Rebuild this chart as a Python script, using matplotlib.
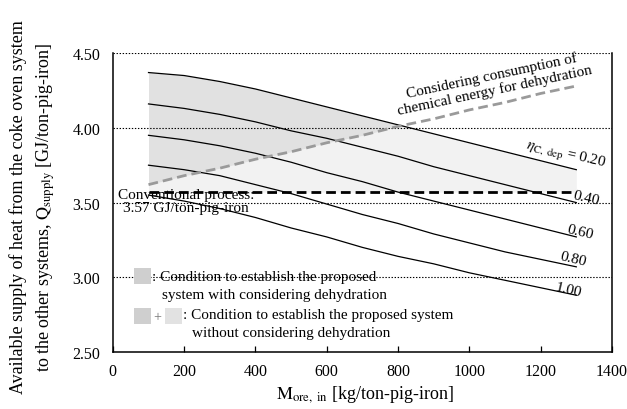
import matplotlib
matplotlib.use("Agg")
import matplotlib.pyplot as plt
from matplotlib.patches import Rectangle
import numpy as np

plt.rcParams['font.family'] = ['Liberation Serif', 'DejaVu Serif']
plt.rcParams['mathtext.fontset'] = 'stix'
plt.rcParams['lines.scale_dashes'] = False

# ore input [kg/ton-pig-iron]
m_ore = [100, 200, 300, 400, 500, 600, 700, 800, 900, 1000, 1100, 1200, 1300]

# available heat supply for each carbon deposition ratio [GJ/ton-pig-iron]
q_020 = [4.37, 4.35, 4.31, 4.26, 4.20, 4.14, 4.08, 4.02, 3.96, 3.90, 3.84, 3.78, 3.72]
q_040 = [4.16, 4.13, 4.09, 4.04, 3.98, 3.93, 3.87, 3.81, 3.74, 3.68, 3.62, 3.56, 3.50]
q_060 = [3.95, 3.92, 3.88, 3.83, 3.77, 3.70, 3.64, 3.57, 3.51, 3.45, 3.39, 3.33, 3.27]
q_080 = [3.75, 3.72, 3.68, 3.62, 3.56, 3.49, 3.42, 3.36, 3.29, 3.23, 3.17, 3.12, 3.07]
q_100 = [3.55, 3.51, 3.46, 3.40, 3.33, 3.27, 3.20, 3.14, 3.09, 3.03, 2.98, 2.93, 2.88]

# required heat when the chemical energy for dehydration is counted
q_dehyd = [3.62, 3.68, 3.73, 3.79, 3.84, 3.90, 3.95, 4.01, 4.06, 4.12, 4.17, 4.23, 4.28]

# conventional process
q_conv = 3.57

curves = [q_020, q_040, q_060, q_080, q_100]
curve_labels = ['0.40', '0.60', '0.80', '1.00']
label_pos = [(1327, 3.530), (1310, 3.309), (1291, 3.122), (1277, 2.921)]

fig = plt.figure(figsize=(6.27, 4.10), dpi=100)
ax = fig.add_axes([0.180, 0.139, 0.796, 0.729])

x = np.array(m_ore)
top = np.array(q_020)
dehyd = np.array(q_dehyd)

# shaded feasibility regions
ax.fill_between(x, q_conv, top, color='#f2f2f2', lw=0, zorder=0)
ax.fill_between(x, dehyd, top, where=top > dehyd, interpolate=True,
                color='#e1e1e1', lw=0, zorder=0.5)

for yv in [3.0, 3.5, 4.0, 4.5]:
    ax.axhline(yv, color='black', ls=(0, (1, 1.2)), lw=0.8, zorder=1)

for c in curves:
    ax.plot(x, c, color='black', lw=0.9, zorder=3)

ax.plot(x, dehyd, color='#9a9a9a', lw=2.0, dashes=(7, 3.6), zorder=4)
ax.plot([x[0], x[-1]], [q_conv, q_conv], color='black', lw=2.0,
        dashes=(7, 3.6), zorder=4)

ax.set_xlim(0, 1400)
ax.set_ylim(2.5, 4.5)
ax.set_xticks(np.arange(0, 1401, 200))
ax.set_yticks([2.5, 3.0, 3.5, 4.0, 4.5])
ax.set_yticklabels(['2.50', '3.00', '3.50', '4.00', '4.50'])
ax.tick_params(axis='x', direction='in', length=4, width=0.9, labelsize=11.5, pad=8)
ax.tick_params(axis='y', length=0, labelsize=11.5, pad=9)
ax.spines['top'].set_visible(False)
for s in ['left', 'right', 'bottom']:
    ax.spines[s].set_linewidth(1.1)

# curve annotations
ax.text(1271, 3.824, r'$\eta_{\mathrm{C,\ dep}}$ = 0.20', fontsize=11,
        rotation=-13, ha='center', va='center', rotation_mode='anchor')
for lab, (lx, ly) in zip(curve_labels, label_pos):
    ax.text(lx, ly, lab, fontsize=11, rotation=-13, ha='center', va='center',
            rotation_mode='anchor')

ax.text(1068, 4.305, 'Considering consumption of\nchemical energy for dehydration',
        fontsize=11, rotation=12, ha='center', va='center', rotation_mode='anchor',
        linespacing=1.05)

ax.text(205, 3.51, 'Conventional process:\n3.57 GJ/ton-pig-iron', fontsize=11,
        ha='center', va='center', linespacing=1.05)

# hand-made legend for the shaded regions
tr = ax.transAxes
ax.add_patch(Rectangle((0.042, 0.227), 0.034, 0.054, color='#cfcfcf', transform=tr, lw=0))
ax.add_patch(Rectangle((0.042, 0.094), 0.034, 0.054, color='#cfcfcf', transform=tr, lw=0))
ax.add_patch(Rectangle((0.104, 0.094), 0.034, 0.054, color='#e2e2e2', transform=tr, lw=0))
ax.text(0.089, 0.119, '+', transform=tr, fontsize=10, color='#777777', ha='center', va='center')
ax.text(0.078, 0.251, ': Condition to establish the proposed', transform=tr,
        fontsize=11, va='center')
ax.text(0.098, 0.193, 'system with considering dehydration', transform=tr,
        fontsize=11, va='center')
ax.text(0.140, 0.124, ': Condition to establish the proposed system', transform=tr,
        fontsize=11, va='center')
ax.text(0.158, 0.064, 'without considering dehydration', transform=tr,
        fontsize=11, va='center')

fig.text(0.582, 1 - 395 / 410, r'$\mathrm{M}_{\mathrm{ore,\ in}}$ [kg/ton-pig-iron]',
         ha='center', va='center', fontsize=13)
fig.text(18 / 627, 1 - 207 / 410, 'Available supply of heat from the coke oven system',
         rotation=90, ha='center', va='center', fontsize=13)
fig.text(46 / 627, 1 - 207 / 410,
         r'to the other systems, $\mathrm{Q}_{\mathrm{supply}}$ [GJ/ton-pig-iron]',
         rotation=90, ha='center', va='center', fontsize=13)

fig.savefig('out.png', dpi=100)
